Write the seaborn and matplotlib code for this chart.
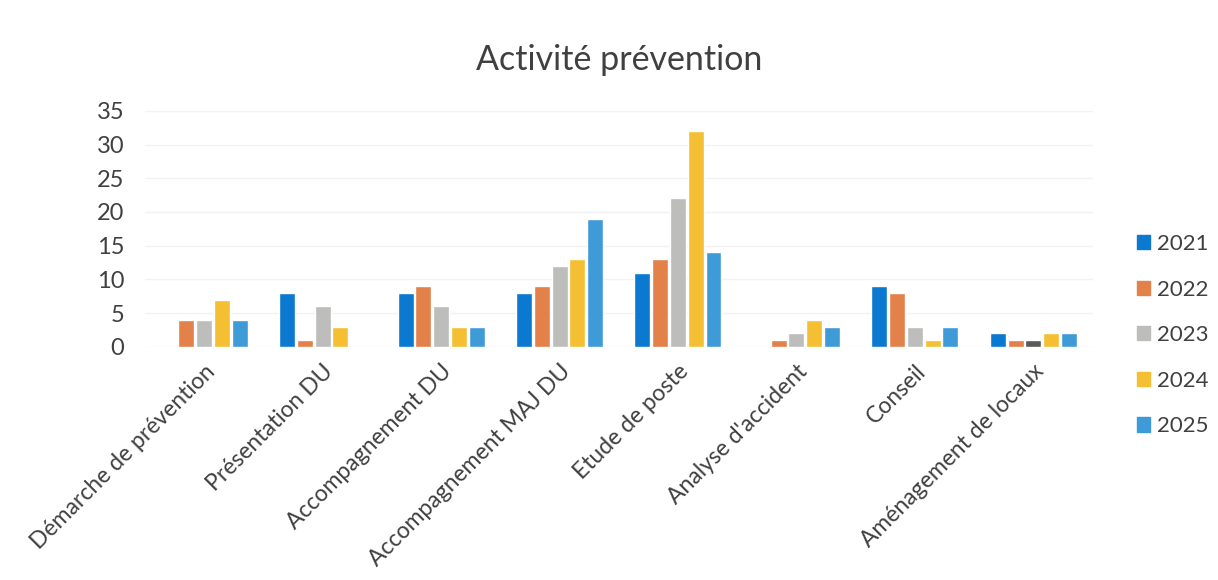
import matplotlib
matplotlib.use("Agg")
import matplotlib.pyplot as plt
import seaborn as sns
import pandas as pd

categories = ["Démarche de prévention", "Présentation DU", "Accompagnement DU",
              "Accompagnement MAJ DU", "Etude de poste", "Analyse d'accident",
              "Conseil", "Aménagement de locaux"]
years = ["2021", "2022", "2023", "2024", "2025"]
v2021 = [0, 8, 8, 8, 11, 0, 9, 2]
v2022 = [4, 1, 9, 9, 13, 1, 8, 1]
v2023 = [4, 6, 6, 12, 22, 2, 3, 1]
v2024 = [7, 3, 3, 13, 32, 4, 1, 2]
v2025 = [4, 0, 3, 19, 14, 3, 3, 2]
yticks = [0, 5, 10, 15, 20, 25, 30, 35]

series = [v2021, v2022, v2023, v2024, v2025]
rows = []
for y, vals in zip(years, series):
    for c, v in zip(categories, vals):
        rows.append({"Catégorie": c, "Année": y, "Valeur": v})
df = pd.DataFrame(rows)

palette = {"2021": "#0b79d0", "2022": "#e2814a", "2023": "#bdbdbb",
           "2024": "#f4bf33", "2025": "#3f9bd8"}

sns.set_theme(style="white")
plt.rcParams["font.family"] = ["Lato", "DejaVu Sans"]

fig = plt.figure(figsize=(12.18, 5.8), dpi=100)
ax = fig.add_axes([0.119, 0.402, 0.778, 0.407])

sns.barplot(data=df, x="Catégorie", y="Valeur", hue="Année", hue_order=years,
            palette=palette, width=0.75, gap=0.1, saturation=1, ax=ax,
            legend=False)

# single highlighted point in the 2023 series
ax.containers[2][7].set_facecolor("#5a5a5a")

ax.set_ylim(0, 35)
ax.set_yticks(yticks)
ax.set_yticklabels([str(t) for t in yticks], fontsize=17, color="#404040")
ax.set_xticks(range(len(categories)))
ax.set_xticklabels(categories, rotation=45, ha="right", rotation_mode="anchor",
                   fontsize=16.5, color="#404040")
ax.tick_params(axis="y", length=0, pad=15)
ax.tick_params(axis="x", length=0, pad=10)
ax.set_xlabel("")
ax.set_ylabel("")
ax.yaxis.grid(True, color="#f2f2f2", linewidth=1)
ax.set_axisbelow(True)
for s in ax.spines.values():
    s.set_visible(False)

fig.suptitle("Activité prévention", x=0.508, y=0.925, fontsize=24.5, color="#404040")

handles = [plt.Rectangle((0, 0), 1, 1, color=palette[y]) for y in years]
fig.legend(handles, years, loc="center left", bbox_to_anchor=(0.917, 0.422),
           frameon=False, fontsize=16, labelspacing=1.15, handlelength=0.6,
           handleheight=0.6, handletextpad=0.3, labelcolor="#404040")

fig.savefig("out.png", dpi=100, facecolor="white")
